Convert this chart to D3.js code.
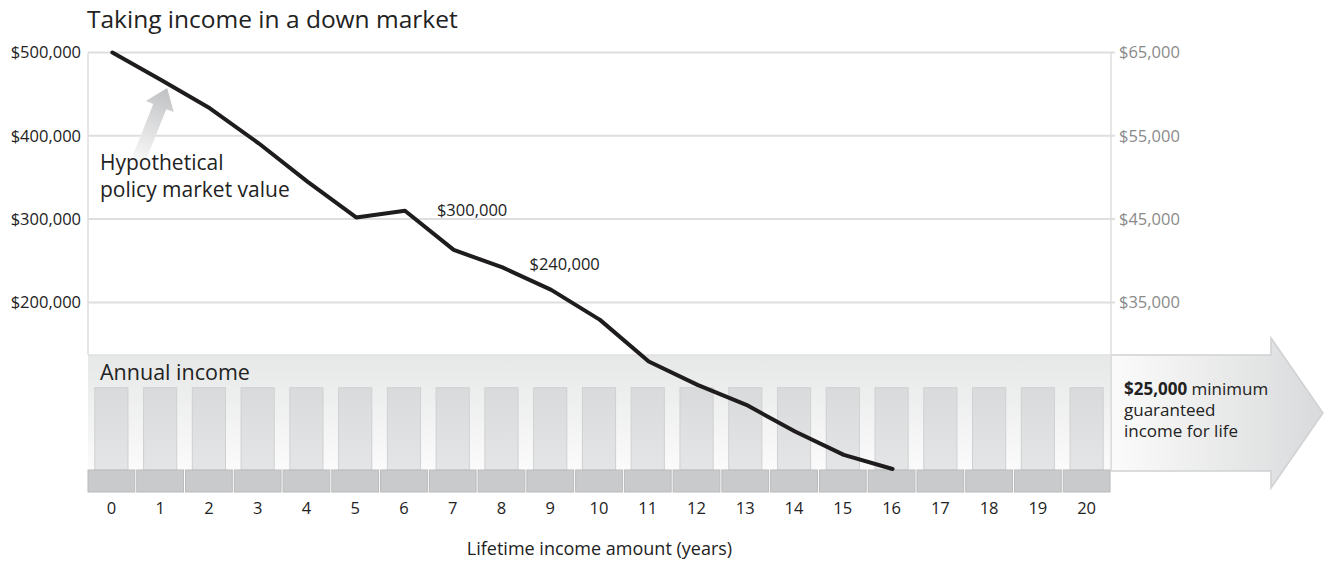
<!DOCTYPE html>
<html>
<head>
<meta charset="utf-8">
<script src="https://cdn.jsdelivr.net/npm/d3@7"></script>
<style>
  body { margin: 0; background: #fff; }
  svg text { font-family: "Open Sans", "Noto Sans", sans-serif; }
</style>
</head>
<body>
<div id="screen"></div>
<script>
var width = 1325;
var height = 561;

// data
var years = [0, 1, 2, 3, 4, 5, 6, 7, 8, 9, 10, 11, 12, 13, 14, 15, 16, 17, 18, 19, 20];
var valueYears = [0, 1, 2, 3, 4, 5, 6, 7, 8, 9, 10, 11, 12, 13, 14, 15, 16];
var marketValue = [500000, 467000, 433000, 391000, 345000, 302000, 310000, 263000, 242000, 215000,
                   179000, 129000, 101000, 77000, 45000, 17000, 0];
var annualIncome = [25000, 25000, 25000, 25000, 25000, 25000, 25000, 25000, 25000, 25000, 25000,
                    25000, 25000, 25000, 25000, 25000, 25000, 25000, 25000, 25000, 25000];
var leftTicks = [200000, 300000, 400000, 500000];
var rightTicks = [35000, 45000, 55000, 65000];
var calloutText = ["$300,000", "$240,000"];

var plotLeft = 88, plotRight = 1111;
var svg = d3.select("#screen").append("svg")
  .attr("width", width).attr("height", height);

var x = d3.scaleBand().domain(years).range([plotLeft - 1, plotRight]).paddingInner(0).paddingOuter(0);
var y = d3.scaleLinear().domain([0, 500000]).range([469, 52.5]);
var yR = d3.scaleLinear().domain([15000, 65000]).range([469, 52.5]);
var cx = function(d){ return x(d) + x.bandwidth() / 2; };

var defs = svg.append("defs");
var g1 = defs.append("linearGradient").attr("id", "bandGrad").attr("x1", 0).attr("y1", 0).attr("x2", 0).attr("y2", 1);
g1.append("stop").attr("offset", "0%").attr("stop-color", "#e6e7e7");
g1.append("stop").attr("offset", "100%").attr("stop-color", "#fbfbfb");
var g2 = defs.append("linearGradient").attr("id", "arrowGrad").attr("x1", 0).attr("y1", 0).attr("x2", 1).attr("y2", 0);
g2.append("stop").attr("offset", "0%").attr("stop-color", "#fbfbfb");
g2.append("stop").attr("offset", "100%").attr("stop-color", "#d9dadb");
var g3 = defs.append("linearGradient").attr("id", "barGrad").attr("x1", 0).attr("y1", 0).attr("x2", 0).attr("y2", 1);
g3.append("stop").attr("offset", "0%").attr("stop-color", "#d9dadc");
g3.append("stop").attr("offset", "100%").attr("stop-color", "#e4e5e6");
var g4 = defs.append("linearGradient").attr("id", "ptrGrad").attr("x1", 0).attr("y1", 0).attr("x2", 0).attr("y2", 1);
g4.append("stop").attr("offset", "0%").attr("stop-color", "#bfc0c2");
g4.append("stop").attr("offset", "100%").attr("stop-color", "#ffffff");

// title
svg.append("text").attr("x", 87).attr("y", 28)
  .attr("font-size", "24.5px").attr("fill", "#222")
  .text("Taking income in a down market");

// big arrow on the right
var bandTop = 355, bandBot = 471;
svg.append("path")
  .attr("d", "M" + plotRight + "," + bandTop + " L1271," + bandTop + " L1271,338 L1323,413 L1271,488 L1271," + bandBot + " L" + plotRight + "," + bandBot + " Z")
  .attr("fill", "url(#arrowGrad)").attr("stroke", "#d0d1d2").attr("stroke-width", 1.5);

// annual income band
svg.append("rect").attr("x", plotLeft).attr("y", bandTop)
  .attr("width", plotRight - plotLeft).attr("height", bandBot - bandTop)
  .attr("fill", "url(#bandGrad)");
svg.append("line").attr("x1", plotLeft).attr("x2", plotRight).attr("y1", bandTop).attr("y2", bandTop)
  .attr("stroke", "#e0e1e1").attr("stroke-width", 1.5);

// gridlines
svg.selectAll("line.grid").data(leftTicks).enter().append("line")
  .attr("class", "grid")
  .attr("x1", plotLeft).attr("x2", plotRight + 4)
  .attr("y1", function(d){ return y(d); }).attr("y2", function(d){ return y(d); })
  .attr("stroke", "#dedede").attr("stroke-width", 2);
svg.append("line").attr("x1", plotLeft).attr("x2", plotLeft).attr("y1", y(500000)).attr("y2", bandTop)
  .attr("stroke", "#dedede").attr("stroke-width", 1.5);
svg.append("line").attr("x1", plotRight).attr("x2", plotRight).attr("y1", y(500000)).attr("y2", 471)
  .attr("stroke", "#dedede").attr("stroke-width", 1.5);

// axes
var money = function(d){ return "$" + d3.format(",")(d); };
var leftAxis = d3.axisLeft(y).tickValues(leftTicks).tickSize(0).tickPadding(7).tickFormat(money);
var la = svg.append("g").attr("transform", "translate(" + plotLeft + ",0)").call(leftAxis);
la.select(".domain").remove();
la.attr("font-family", null).attr("font-size", null);
la.selectAll("text").attr("font-size", "16.5px").attr("fill", "#222");

var rightAxis = d3.axisRight(yR).tickValues(rightTicks).tickSize(0).tickPadding(8).tickFormat(money);
var ra = svg.append("g").attr("transform", "translate(" + plotRight + ",0)").call(rightAxis);
ra.select(".domain").remove();
ra.attr("font-family", null).attr("font-size", null);
ra.selectAll("text").attr("font-size", "16.5px").attr("fill", "#8a8a8a");

// bars
var barW = x.bandwidth() * 0.68;
svg.selectAll("rect.bar").data(annualIncome).enter().append("rect")
  .attr("class", "bar")
  .attr("x", function(d, i){ return cx(years[i]) - barW / 2; })
  .attr("y", function(d){ return yR(d) + 2; })
  .attr("width", barW)
  .attr("height", function(d){ return yR(15000) - yR(d) - 1; })
  .attr("fill", "url(#barGrad)").attr("stroke", "#cfd0d2").attr("stroke-width", 1);

// base strip
svg.selectAll("rect.base").data(years).enter().append("rect")
  .attr("class", "base")
  .attr("x", function(d){ return x(d) + 1; })
  .attr("y", 470)
  .attr("width", x.bandwidth() - 2)
  .attr("height", 22)
  .attr("fill", "#c9cacc").attr("stroke", "#b9babc").attr("stroke-width", 1);

svg.append("text").attr("x", 100).attr("y", 380)
  .attr("font-size", "21.5px").attr("fill", "#222").text("Annual income");

// pointer arrow
var tipX = cx(1) + 7, tipY = y(marketValue[1]) + 8;
var ang = Math.atan2(-63, 25);
var ux = Math.cos(ang), uy = Math.sin(ang);
var px = -uy, py = ux;
var headLen = 20, headHalf = 15, shaftHalf = 7, shaftLen = 68;
var hbx = tipX - ux * headLen, hby = tipY - uy * headLen;
var sbx = hbx - ux * shaftLen, sby = hby - uy * shaftLen;
var ptr = [
  [tipX, tipY],
  [hbx + px * headHalf, hby + py * headHalf],
  [hbx + px * shaftHalf, hby + py * shaftHalf],
  [sbx + px * shaftHalf, sby + py * shaftHalf],
  [sbx - px * shaftHalf, sby - py * shaftHalf],
  [hbx - px * shaftHalf, hby - py * shaftHalf],
  [hbx - px * headHalf, hby - py * headHalf]
];
g4.attr("gradientUnits", "userSpaceOnUse").attr("x1", tipX).attr("y1", tipY).attr("x2", sbx).attr("y2", sby);
svg.append("path").attr("d", d3.line()(ptr) + "Z").attr("fill", "url(#ptrGrad)");

svg.append("text").attr("x", 100).attr("y", 170)
  .attr("font-size", "21px").attr("fill", "#222").text("Hypothetical");
svg.append("text").attr("x", 100).attr("y", 197)
  .attr("font-size", "21px").attr("fill", "#222").text("policy market value");

// market value line
var line = d3.line()
  .x(function(d, i){ return cx(valueYears[i]) + 1; })
  .y(function(d){ return y(d); });
svg.append("path").datum(marketValue).attr("d", line)
  .attr("fill", "none").attr("stroke", "#1e1c1c").attr("stroke-width", 4)
  .attr("stroke-linejoin", "round").attr("stroke-linecap", "round");

// callouts
svg.append("text").attr("x", cx(6) + 33).attr("y", 216)
  .attr("font-size", "16.5px").attr("fill", "#222").text(calloutText[0]);
svg.append("text").attr("x", cx(8) + 28).attr("y", 270)
  .attr("font-size", "16.5px").attr("fill", "#222").text(calloutText[1]);

// right arrow text
var t = svg.append("text").attr("x", 1124).attr("y", 395).attr("font-size", "17px").attr("fill", "#222");
t.append("tspan").attr("font-weight", "bold").text("$25,000");
t.append("tspan").text(" minimum");
svg.append("text").attr("x", 1124).attr("y", 416).attr("font-size", "17px").attr("fill", "#222").text("guaranteed");
svg.append("text").attr("x", 1124).attr("y", 437).attr("font-size", "17px").attr("fill", "#222").text("income for life");

// x axis
var xAxis = d3.axisBottom(x).tickSize(0).tickPadding(2);
var xa = svg.append("g").attr("transform", "translate(0,500)").call(xAxis);
xa.select(".domain").remove();
xa.attr("font-family", null).attr("font-size", null);
xa.selectAll("text").attr("font-size", "16.5px").attr("fill", "#222");

svg.append("text").attr("x", (plotLeft + plotRight) / 2).attr("y", 555)
  .attr("text-anchor", "middle").attr("font-size", "18px").attr("fill", "#222")
  .text("Lifetime income amount (years)");
</script>
</body>
</html>
